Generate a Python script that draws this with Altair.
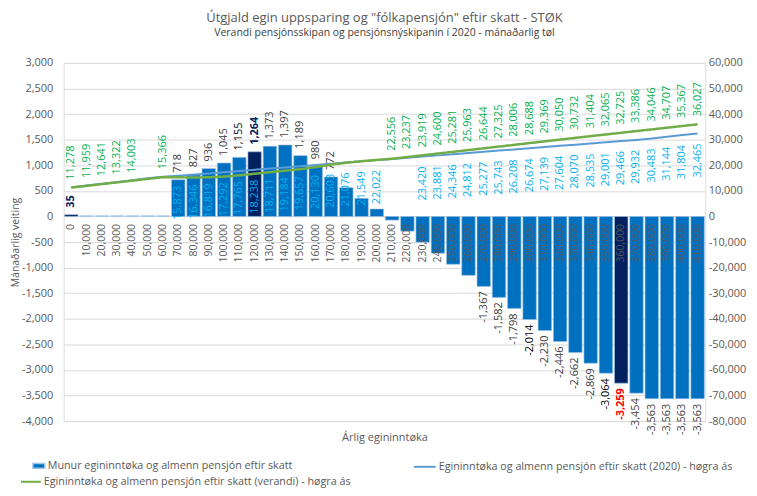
import altair as alt
import pandas as pd

# ---------------- data ----------------
income = [0, 10000, 20000, 30000, 40000, 50000, 60000, 70000, 80000, 90000,
          100000, 110000, 120000, 130000, 140000, 150000, 160000, 170000, 180000, 190000,
          200000, 210000, 220000, 230000, 240000, 250000, 260000, 270000, 280000, 290000,
          300000, 310000, 320000, 330000, 340000, 350000, 360000, 370000, 380000, 390000,
          400000, 410000]

# Munur egininntøka og almenn pensjón eftir skatt (left axis)
diff = [35, 15, 15, 15, 15, 15, 15, 718, 827, 936,
        1045, 1155, 1264, 1373, 1397, 1189, 980, 772, 563, 354,
        146, -71, -287, -503, -719, -935, -1151, -1367, -1582, -1798,
        -2014, -2230, -2446, -2662, -2869, -3064, -3259, -3454, -3563, -3563,
        -3563, -3563]

# Egininntøka og almenn pensjón eftir skatt (2020) - right axis
p2020 = [11400, 12100, 12800, 13500, 14200, 14900, 15500, 15873, 16346, 16819,
         17292, 17765, 18238, 18711, 19184, 19657, 20130, 20603, 21076, 21549,
         22022, 22495, 22959, 23420, 23881, 24346, 24812, 25277, 25743, 26208,
         26674, 27139, 27604, 28070, 28535, 29001, 29466, 29932, 30483, 31144,
         31804, 32465]

# Egininntøka og almenn pensjón eftir skatt (verandi) - right axis
pnow = [11278, 11959, 12641, 13322, 14003, 14685, 15366, 15300, 15250, 15300,
        15600, 16100, 16700, 17300, 17900, 18500, 19300, 20300, 21000, 21600,
        22100, 22556, 23237, 23919, 24600, 25281, 25963, 26644, 27325, 28006,
        28688, 29369, 30050, 30732, 31404, 32065, 32725, 33386, 34046, 34707,
        35367, 36027]

dark_bars = [0, 120000, 360000]
tiny_bars = [10000, 20000, 30000, 40000, 50000, 60000]

bar_labels_at = [0] + income[7:18] + income[27:]
now_labels_at = income[0:5] + [60000] + income[21:]
p2020_labels_at = income[7:21] + income[23:]

navy_labels = [0, 120000]
red_labels = [360000]
black_labels = [110000, 300000, 350000]

BAR_NAME = "Munur egininntøka og almenn pensjón eftir skatt"
NAME_2020 = "Egininntøka og almenn pensjón eftir skatt (2020) - høgra ás"
NAME_NOW = "Egininntøka og almenn pensjón eftir skatt (verandi) - høgra ás"

df = pd.DataFrame({"income": income, "diff": diff, "p2020": p2020, "pnow": pnow})
df["tone"] = ["dark" if v in dark_bars else ("tiny" if v in tiny_bars else BAR_NAME) for v in income]
df["diff_txt"] = [f"{v:,}" for v in diff]
df["p2020_txt"] = [f"{v:,}" for v in p2020]
df["pnow_txt"] = [f"{v:,}" for v in pnow]

FONT = "Open Sans"
GREY = "#595959"
LBL_EXPR = "(datum.value < 0 ? '-' : '') + format(abs(datum.value), ',')"

x_enc = alt.X(
    "income:O",
    title="Árlig egininntøka",
    scale=alt.Scale(paddingInner=0.12, paddingOuter=0.06),
    axis=alt.Axis(
        labelExpr="format(datum.value, ',')",
        labelAngle=270, labelPadding=7, ticks=False, domain=False,
        offset=-205.714, zindex=1,
        labelFontSize=10.5, labelColor=GREY, labelFont=FONT,
        titleFont=FONT, titleFontSize=11, titleFontWeight="normal", titleColor=GREY,
        titleY=222, titleBaseline="middle",
    ),
)


def y_left(field):
    return alt.Y(
        f"{field}:Q",
        scale=alt.Scale(domain=[-4000, 3000], nice=False, zero=False),
        axis=alt.Axis(
            values=list(range(-4000, 3001, 500)), labelExpr=LBL_EXPR,
            grid=True, gridColor="#D9D9D9", domain=False, ticks=False,
            labelPadding=11, labelFontSize=11, labelColor=GREY, labelFont=FONT,
            title="Mánaðarlig veiting", titleFont=FONT, titleFontSize=10.5,
            titleFontWeight="normal", titleColor=GREY,
            titleAngle=270, titleX=-48, titleY=180, titleBaseline="middle", titleAlign="center",
        ),
    )


def y_right(field):
    return alt.Y(
        f"{field}:Q",
        scale=alt.Scale(domain=[-80000, 60000], nice=False, zero=False),
        axis=alt.Axis(
            orient="right", values=list(range(-80000, 60001, 10000)), labelExpr=LBL_EXPR,
            grid=False, domain=False, ticks=False, labelPadding=3,
            labelFontSize=11, labelColor=GREY, labelFont=FONT, title=None,
        ),
    )


legend_common = dict(title=None, orient="none", labelFont=FONT, labelFontSize=10.8,
                     labelColor=GREY, labelLimit=600, labelOffset=2, padding=0)

bars = alt.Chart(df).mark_bar(stroke="#9DC3E6", strokeWidth=0.6).encode(
    x=x_enc,
    y=y_left("diff"),
    color=alt.Color(
        "tone:N",
        scale=alt.Scale(domain=[BAR_NAME, "dark", "tiny"], range=["#0070C0", "#002060", "#9DC3E6"]),
        legend=alt.Legend(values=[BAR_NAME], legendX=-32, legendY=398,
                          symbolType="M-1,-0.4H1V0.4H-1Z", symbolSize=140, **legend_common),
    ),
)


def bar_label(values, positive, color, weight="normal"):
    return alt.Chart(df).transform_filter(
        alt.FieldOneOfPredicate(field="income", oneOf=values)
    ).mark_text(
        angle=270, align="left" if positive else "right", baseline="middle",
        dx=7 if positive else -5, color=color, fontSize=11, font=FONT, fontWeight=weight,
    ).encode(x=x_enc, y=y_left("diff"), text="diff_txt:N")


special = navy_labels + red_labels + black_labels
pos_plain = [v for v, d in zip(income, diff) if v in bar_labels_at and d > 0 and v not in special]
neg_plain = [v for v, d in zip(income, diff) if v in bar_labels_at and d < 0 and v not in special]
pos_black = [v for v, d in zip(income, diff) if v in black_labels and d > 0]
neg_black = [v for v, d in zip(income, diff) if v in black_labels and d < 0]

left = alt.layer(
    bars,
    bar_label(pos_plain, True, "#404040"),
    bar_label(neg_plain, False, "#404040"),
    bar_label(pos_black, True, "#000000"),
    bar_label(neg_black, False, "#000000"),
    bar_label(navy_labels, True, "#002060", "bold"),
    bar_label(red_labels, False, "#FF0000", "bold"),
)

blue_line = alt.Chart(df).transform_calculate(s=f"'{NAME_2020}'").mark_line(strokeWidth=2).encode(
    x=x_enc,
    y=y_right("p2020"),
    stroke=alt.Stroke(
        "s:N",
        scale=alt.Scale(domain=[NAME_2020], range=["#5B9BD5"]),
        legend=alt.Legend(legendX=351, legendY=394, symbolType="stroke", symbolSize=480,
                          symbolStrokeWidth=2, **legend_common),
    ),
)

green_line = alt.Chart(df).transform_calculate(s=f"'{NAME_NOW}'").mark_line(
    strokeWidth=2.5, color="#70AD47"
).encode(
    x=x_enc,
    y=y_right("pnow"),
    strokeDash=alt.StrokeDash(
        "s:N",
        scale=alt.Scale(domain=[NAME_NOW], range=[[1, 0]]),
        legend=alt.Legend(legendX=-44, legendY=410, symbolType="stroke", symbolSize=400,
                          symbolStrokeWidth=2, symbolStrokeColor="#70AD47", **legend_common),
    ),
)

now_labels = alt.Chart(df).transform_filter(
    alt.FieldOneOfPredicate(field="income", oneOf=now_labels_at)
).mark_text(angle=270, align="left", baseline="middle", dx=8, color="#00B050",
            fontSize=11, font=FONT).encode(x=x_enc, y=y_right("pnow"), text="pnow_txt:N")

p2020_labels = alt.Chart(df).transform_filter(
    alt.FieldOneOfPredicate(field="income", oneOf=p2020_labels_at)
).mark_text(angle=270, align="right", baseline="middle", dx=-10, color="#00B0F0",
            fontSize=11, font=FONT).encode(x=x_enc, y=y_right("p2020"), text="p2020_txt:N")

right = alt.layer(blue_line, green_line, now_labels, p2020_labels)

chart = alt.layer(left, right).resolve_scale(y="independent").properties(
    width=645,
    height=360,
    padding={"left": 56, "top": 54, "right": 44, "bottom": 66},
    autosize=alt.AutoSizeParams(type="none"),
    title=alt.TitleParams(
        text='Útgjald egin uppsparing og "fólkapensjón" eftir skatt - STØK',
        subtitle="Verandi pensjónsskipan og pensjónsnýskipanin í 2020 - mánaðarlig tøl",
        font=FONT, fontSize=13, fontWeight="normal", color=GREY,
        subtitleFont=FONT, subtitleFontSize=10.5, subtitleColor="#404040",
        subtitlePadding=3, anchor="middle", frame="group", offset=19,
    ),
).configure_view(stroke=None).configure(background="white")

chart.save("out.html", embed_options={"renderer": "svg", "actions": False})
